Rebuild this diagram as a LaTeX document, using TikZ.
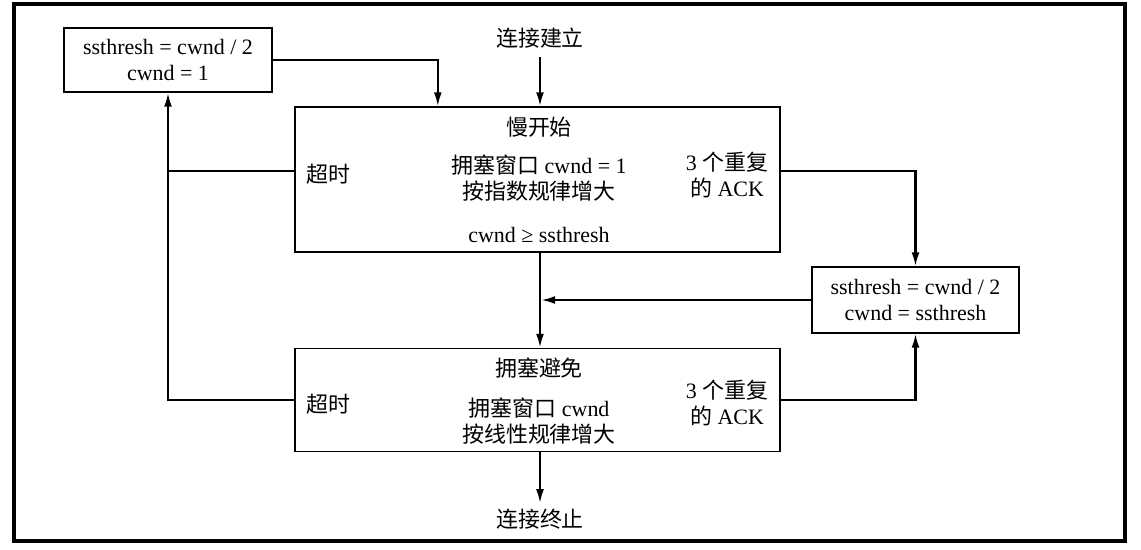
\documentclass[tikz,border=0pt]{standalone}
\usepackage{fontspec}
\setmainfont{Liberation Serif}
\newfontfamily\cjk{Noto Sans CJK SC}
\usepackage{tikz}
\usetikzlibrary{calc,arrows.meta}
\newcommand{\zh}[1]{{\cjk #1}}

\begin{document}
\fontsize{12.5}{14.5}\selectfont
\begin{tikzpicture}[x=0.02cm,y=-0.02cm,
    box/.style={draw,line width=0.75pt,inner sep=0pt,align=center},
    conn/.style={line width=1.3pt,-{Latex[length=8pt,width=4.5pt]}},
    wire/.style={line width=1.3pt},
    txt/.style={inner sep=0pt,align=center}]

    \useasboundingbox (0,0) rectangle (1141,549);
    \draw[line width=2pt] (14,4) rectangle (1125,541);

    % the four boxes
    \node[box,minimum width=4.16cm,minimum height=1.28cm] (reset) at (168,60)
        {ssthresh = cwnd / 2\\cwnd = 1};
    \node[box,minimum width=9.7cm,minimum height=2.9cm] (slow) at (537.5,179.5) {};
    \node[box,minimum width=4.14cm,minimum height=1.32cm] (halve) at (915.5,300)
        {ssthresh = cwnd / 2\\cwnd = ssthresh};
    \node[box,minimum width=9.7cm,minimum height=2.06cm] (avoid) at (537.5,400) {};

    \node[txt] (start) at (540,38) {\zh{连接建立}};
    \node[txt] (stop) at (540,519) {\zh{连接终止}};

    \node[txt] (slowName) at (539,127) {\zh{慢开始}};
    \node[txt] (slowRule) at (539,178) {\zh{拥塞窗口} cwnd = 1\\\zh{按指数规律增大}};
    \node[txt] (slowCond) at (539,235) {cwnd ≥ ssthresh};
    \node[txt] (slowTime) at (328,174) {\zh{超时}};
    \node[txt] (slowDup) at (727,175) {3 \zh{个重复}\\\zh{的} ACK};

    \node[txt] (avoidName) at (539,368) {\zh{拥塞避免}};
    \node[txt] (avoidRule) at (539,421) {\zh{拥塞窗口} cwnd\\\zh{按线性规律增大}};
    \node[txt] (avoidTime) at (328,404) {\zh{超时}};
    \node[txt] (avoidDup) at (727,403) {3 \zh{个重复}\\\zh{的} ACK};

    \coordinate (slowL) at ($(slow.north west)!0.44!(slow.south west)$);
    \coordinate (slowR) at ($(slow.north east)!0.44!(slow.south east)$);

    % connectors
    \draw[conn,shorten <=5pt] (start.south) -- (start |- slow.north);
    \draw[conn] (reset.east) -| ($(slow.north west)!0.295!(slow.north east)$);
    \draw[wire] (slowL) -- (slowL -| reset.south);
    \draw[conn] (avoid.west) -| (reset.south);
    \draw[conn] (slowR) -| (halve.north);
    \draw[conn] (avoid.east) -| (halve.south);
    \draw[conn] (slow.south -| start) -- (avoid.north -| start);
    \draw[conn,shorten >=0.6pt] (halve.west) -- (halve.west -| start);
    \draw[conn,shorten >=3pt] (avoid.south -| start) -- (stop.north);

\end{tikzpicture}
\end{document}
